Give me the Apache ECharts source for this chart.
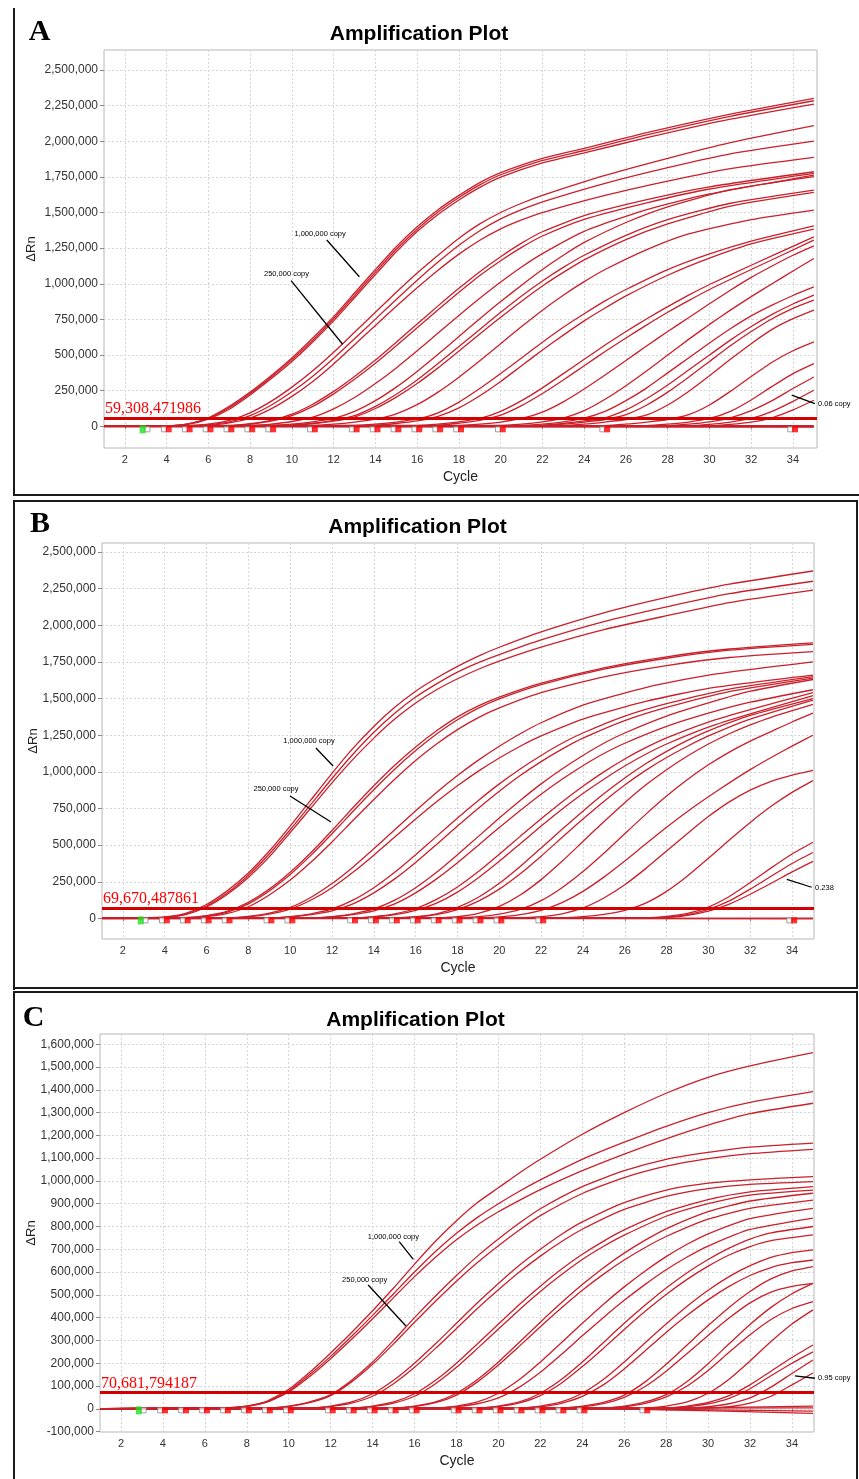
<!DOCTYPE html>
<html><head><meta charset="utf-8">
<script src="https://cdn.jsdelivr.net/npm/echarts@6/dist/echarts.min.js"></script>
<style>html,body{margin:0;padding:0;background:#fff}#c{width:859px;height:1479px}</style>
</head><body><div id="c"></div>
<script>
// ---------------- DATA ----------------
const cycleTicks = [2,4,6,8,10,12,14,16,18,20,22,24,26,28,30,32,34];
const yTicksAB = [0,250000,500000,750000,1000000,1250000,1500000,1750000,2000000,2250000,2500000];
const yTicksC = [-100000,0,100000,200000,300000,400000,500000,600000,700000,800000,900000,1000000,1100000,1200000,1300000,1400000,1500000,1600000];
const thresholdA = 59308.471986, thresholdB = 69670.487861, thresholdC = 70681.794187;
const thresholdLabelA = '59,308,471986', thresholdLabelB = '69,670,487861', thresholdLabelC = '70,681,794187';
const panelTitle = 'Amplification Plot';
const xName = 'Cycle', yName = 'ΔRn';
// baseline start/end flags (cycles) under each plot
const flagStartCycle = 3;
const flagCyclesA = [4,5,6,7,8,9,11,13,14,15,16,17,18,20,25,34];
const flagCyclesB = [4,5,6,7,9,10,13,14,15,16,17,18,19,20,22,34];
const flagCyclesC = [4,5,6,7,8,9,10,12,13,14,15,16,18,19,20,21,22,23,24,27];

// curves: [cycle, ΔRn in thousands]
const curvesA = [
[[1,0],[4,4],[5,18],[6,60],[7,140],[8,240],[9,355],[10,480],[11,620],[12,770],[13,935],[14,1100],[15,1260],[16,1400],[17,1520],[18,1620],[19,1710],[20,1780],[22,1880],[24,1950],[27,2060],[31,2190],[35,2301]],
[[1,0],[4,3],[5,15],[6,55],[7,130],[8,230],[9,345],[10,468],[11,605],[12,755],[13,918],[14,1082],[15,1242],[16,1383],[17,1503],[18,1605],[19,1694],[20,1765],[22,1865],[24,1935],[27,2045],[31,2175],[35,2284]],
[[1,0],[4,3],[5,13],[6,50],[7,120],[8,220],[9,333],[10,455],[11,592],[12,740],[13,902],[14,1065],[15,1225],[16,1366],[17,1486],[18,1588],[19,1676],[20,1748],[22,1848],[24,1918],[27,2025],[31,2155],[35,2261]],
[[1,0],[5,5],[6,16],[7,42],[8,95],[9,175],[10,275],[11,390],[12,520],[13,660],[14,800],[15,940],[16,1075],[17,1200],[18,1320],[19,1420],[20,1500],[21,1565],[22,1620],[25,1760],[28,1880],[31,1990],[35,2109]],
[[1,0],[5,4],[6,12],[7,32],[8,75],[9,148],[10,242],[11,352],[12,478],[13,615],[14,752],[15,890],[16,1025],[17,1152],[18,1270],[19,1372],[20,1455],[21,1520],[22,1575],[25,1705],[28,1815],[31,1912],[35,2001]],
[[1,0],[6,9],[7,25],[8,58],[9,122],[10,210],[11,315],[12,438],[13,572],[14,708],[15,842],[16,972],[17,1095],[18,1208],[19,1305],[20,1385],[21,1448],[22,1500],[25,1620],[28,1720],[31,1808],[35,1887]],
[[1,0],[7,5],[8,18],[9,42],[10,85],[11,155],[12,245],[13,350],[14,465],[15,590],[16,718],[17,845],[18,968],[19,1085],[20,1190],[21,1285],[22,1365],[24,1478],[27,1590],[30,1680],[35,1786]],
[[1,0],[7,4],[8,15],[9,36],[10,75],[11,140],[12,228],[13,330],[14,442],[15,565],[16,692],[17,818],[18,940],[19,1058],[20,1162],[21,1255],[22,1335],[24,1452],[27,1568],[30,1665],[35,1775]],
[[1,0],[8,5],[9,16],[10,34],[11,64],[12,122],[13,202],[14,300],[15,410],[16,530],[17,655],[18,778],[19,898],[20,1012],[21,1118],[22,1212],[24,1368],[27,1520],[30,1630],[35,1763]],
[[1,0],[9,5],[10,15],[11,32],[12,56],[13,105],[14,180],[15,275],[16,385],[17,505],[18,630],[19,755],[20,875],[21,990],[22,1100],[23,1200],[24,1290],[26,1430],[28,1540],[31,1660],[35,1752]],
[[1,0],[10,10],[11,22],[12,42],[13,75],[14,140],[15,225],[16,325],[17,440],[18,560],[19,680],[20,800],[21,915],[22,1020],[23,1115],[24,1200],[26,1340],[28,1450],[31,1565],[35,1657]],
[[1,0],[10,8],[11,18],[12,36],[13,65],[14,125],[15,205],[16,300],[17,410],[18,528],[19,648],[20,765],[21,878],[22,985],[23,1080],[24,1168],[26,1310],[28,1420],[31,1545],[35,1641]],
[[1,0],[11,5],[12,15],[13,30],[14,50],[15,88],[16,152],[17,240],[18,345],[19,460],[20,580],[21,700],[22,815],[23,920],[24,1015],[25,1100],[27,1240],[29,1350],[32,1450],[35,1517]],
[[1,0],[13,5],[14,15],[15,30],[16,52],[17,95],[18,170],[19,265],[20,370],[21,480],[22,590],[23,695],[24,790],[25,880],[26,960],[28,1100],[30,1210],[32,1300],[35,1407]],
[[1,0],[14,8],[15,20],[16,38],[17,70],[18,130],[19,215],[20,315],[21,425],[22,535],[23,640],[24,740],[25,830],[26,915],[28,1060],[30,1180],[32,1280],[35,1383]],
[[1,0],[16,5],[17,15],[18,32],[19,55],[20,105],[21,180],[22,270],[23,370],[24,470],[25,570],[26,665],[27,755],[28,840],[29,920],[30,995],[32,1130],[35,1329]],
[[1,0],[17,8],[18,22],[19,42],[20,78],[21,145],[22,230],[23,325],[24,425],[25,525],[26,620],[27,712],[28,800],[29,882],[30,960],[32,1100],[35,1306]],
[[1,0],[18,5],[19,15],[20,30],[21,55],[22,100],[23,172],[24,262],[25,360],[26,462],[27,565],[28,665],[29,762],[30,860],[31,955],[32,1045],[33,1125],[34,1200],[35,1266]],
[[1,0],[20,5],[21,15],[22,32],[23,58],[24,110],[25,190],[26,285],[27,390],[28,500],[29,610],[30,715],[31,815],[32,910],[33,1000],[34,1090],[35,1177]],
[[1,0],[21,5],[22,15],[23,32],[24,58],[25,105],[26,180],[27,270],[28,375],[29,480],[30,585],[31,685],[32,775],[33,850],[34,918],[35,978]],
[[1,0],[22,8],[23,20],[24,38],[25,60],[26,115],[27,195],[28,290],[29,395],[30,500],[31,605],[32,700],[33,785],[34,858],[35,920]],
[[1,0],[22,5],[23,15],[24,30],[25,48],[26,82],[27,150],[28,240],[29,345],[30,455],[31,565],[32,665],[33,755],[34,828],[35,885]],
[[1,0],[23,5],[24,15],[25,30],[26,48],[27,80],[28,150],[29,245],[30,355],[31,470],[32,580],[33,680],[34,755],[35,815]],
[[1,0],[25,5],[26,15],[27,30],[28,48],[29,82],[30,150],[31,245],[32,350],[33,450],[34,530],[35,592]],
[[1,0],[27,5],[28,15],[29,30],[30,55],[31,105],[32,185],[33,280],[34,370],[35,440]],
[[1,0],[28,5],[29,15],[30,32],[31,60],[32,110],[33,180],[34,265],[35,346]],
[[1,0],[29,5],[30,14],[31,30],[32,55],[33,105],[34,175],[35,253]],
[[1,0],[30,5],[31,14],[32,30],[33,60],[34,115],[35,183]],
[[1,-4],[35,-2]],
[[1,3],[35,4]],
[[1,0],[35,-6]]
];

const curvesB = [
[[1,0],[3,3],[4,10],[5,35],[6,95],[7,190],[8,310],[9,460],[10,630],[11,810],[12,990],[13,1160],[14,1310],[15,1440],[16,1550],[17,1640],[18,1720],[19,1790],[20,1850],[22,1955],[25,2085],[28,2190],[31,2280],[35,2370]],
[[1,0],[3,2],[4,8],[5,30],[6,85],[7,175],[8,295],[9,440],[10,605],[11,780],[12,955],[13,1120],[14,1270],[15,1400],[16,1510],[17,1600],[18,1680],[19,1745],[20,1800],[22,1900],[25,2025],[28,2125],[31,2215],[35,2300]],
[[1,0],[3,2],[4,7],[5,26],[6,78],[7,165],[8,280],[9,420],[10,585],[11,755],[12,925],[13,1085],[14,1230],[15,1360],[16,1470],[17,1560],[18,1635],[19,1700],[20,1755],[22,1850],[25,1970],[28,2065],[31,2155],[35,2240]],
[[1,0],[5,6],[6,20],[7,50],[8,110],[9,200],[10,315],[11,450],[12,600],[13,755],[14,905],[15,1045],[16,1170],[17,1280],[18,1375],[19,1450],[20,1510],[22,1605],[25,1710],[28,1785],[31,1838],[35,1880]],
[[1,0],[5,5],[6,17],[7,44],[8,100],[9,188],[10,300],[11,432],[12,578],[13,730],[14,878],[15,1018],[16,1145],[17,1258],[18,1355],[19,1435],[20,1498],[22,1595],[25,1700],[28,1775],[31,1830],[35,1870]],
[[1,0],[5,4],[6,12],[7,34],[8,80],[9,160],[10,262],[11,385],[12,522],[13,668],[14,812],[15,950],[16,1078],[17,1190],[18,1288],[19,1370],[20,1436],[22,1540],[25,1648],[28,1725],[31,1780],[35,1820]],
[[1,0],[7,4],[8,14],[9,36],[10,75],[11,145],[12,238],[13,350],[14,475],[15,605],[16,735],[17,860],[18,975],[19,1080],[20,1175],[21,1260],[22,1335],[24,1455],[27,1575],[30,1660],[35,1750]],
[[1,0],[7,3],[8,11],[9,30],[10,64],[11,126],[12,210],[13,315],[14,432],[15,555],[16,678],[17,796],[18,905],[19,1005],[20,1095],[21,1175],[22,1245],[24,1360],[27,1480],[30,1570],[35,1660]],
[[1,0],[9,4],[10,13],[11,32],[12,65],[13,125],[14,210],[15,315],[16,435],[17,560],[18,685],[19,805],[20,918],[21,1020],[22,1112],[23,1195],[24,1265],[26,1380],[28,1465],[31,1565],[35,1650]],
[[1,0],[9,3],[10,10],[11,26],[12,52],[13,100],[14,175],[15,270],[16,382],[17,505],[18,630],[19,752],[20,868],[21,975],[22,1070],[23,1155],[24,1230],[26,1350],[28,1440],[31,1548],[35,1640]],
[[1,0],[11,4],[12,13],[13,32],[14,65],[15,125],[16,210],[17,315],[18,435],[19,560],[20,685],[21,805],[22,918],[23,1020],[24,1112],[25,1195],[26,1265],[28,1380],[30,1470],[32,1550],[35,1630]],
[[1,0],[11,3],[12,10],[13,26],[14,52],[15,100],[16,175],[17,270],[18,380],[19,500],[20,620],[21,737],[22,848],[23,950],[24,1042],[25,1125],[26,1195],[28,1310],[30,1400],[32,1475],[35,1560]],
[[1,0],[13,4],[14,13],[15,32],[16,68],[17,130],[18,215],[19,320],[20,438],[21,560],[22,680],[23,795],[24,902],[25,1000],[26,1088],[27,1165],[28,1232],[30,1340],[32,1425],[35,1540]],
[[1,0],[13,3],[14,10],[15,26],[16,55],[17,105],[18,180],[19,278],[20,390],[21,510],[22,630],[23,745],[24,852],[25,950],[26,1040],[27,1120],[28,1190],[30,1305],[32,1395],[35,1520]],
[[1,0],[15,4],[16,12],[17,32],[18,75],[19,145],[20,240],[21,355],[22,480],[23,608],[24,732],[25,850],[26,958],[27,1055],[28,1140],[29,1215],[30,1280],[32,1385],[35,1500]],
[[1,0],[15,3],[16,10],[17,26],[18,60],[19,118],[20,200],[21,305],[22,425],[23,552],[24,678],[25,798],[26,910],[27,1010],[28,1098],[29,1175],[30,1245],[32,1360],[35,1490]],
[[1,0],[17,4],[18,12],[19,35],[20,82],[21,160],[22,265],[23,390],[24,525],[25,660],[26,790],[27,910],[28,1015],[29,1108],[30,1190],[31,1260],[32,1320],[33,1372],[35,1460]],
[[1,0],[18,4],[19,12],[20,30],[21,62],[22,122],[23,210],[24,320],[25,445],[26,578],[27,710],[28,835],[29,948],[30,1048],[31,1135],[32,1210],[33,1275],[34,1340],[35,1400]],
[[1,0],[19,3],[20,10],[21,26],[22,55],[23,108],[24,185],[25,282],[26,392],[27,508],[28,622],[29,730],[30,830],[31,925],[32,1015],[33,1098],[34,1176],[35,1250]],
[[1,0],[21,4],[22,12],[23,32],[24,72],[25,140],[26,230],[27,340],[28,460],[29,580],[30,695],[31,795],[32,875],[33,935],[34,978],[35,1010]],
[[1,0],[23,4],[24,12],[25,28],[26,55],[27,105],[28,185],[29,290],[30,410],[31,535],[32,655],[33,765],[34,860],[35,940]],
[[1,0],[27,4],[28,14],[29,35],[30,78],[31,150],[32,245],[33,345],[34,440],[35,520]],
[[1,0],[27,3],[28,10],[29,27],[30,62],[31,120],[32,200],[33,288],[34,375],[35,450]],
[[1,0],[28,8],[29,22],[30,50],[31,98],[32,165],[33,240],[34,318],[35,390]],
[[1,-2],[35,3]],
[[1,3],[35,-3]]
];

const curvesC = [
[[1,0],[7,4],[8,12],[9,35],[10,85],[11,160],[12,245],[13,335],[14,430],[15,530],[16,635],[17,735],[18,825],[19,905],[20,970],[21,1035],[22,1095],[24,1205],[26,1300],[28,1385],[30,1455],[32,1505],[35,1563]],
[[1,0],[7,4],[8,11],[9,32],[10,78],[11,150],[12,230],[13,318],[14,410],[15,505],[16,600],[17,690],[18,770],[19,840],[20,900],[21,955],[22,1005],[24,1095],[26,1170],[28,1240],[30,1300],[32,1345],[35,1392]],
[[1,0],[7,3],[8,10],[9,30],[10,74],[11,142],[12,220],[13,305],[14,395],[15,488],[16,580],[17,665],[18,742],[19,808],[20,865],[21,915],[22,962],[24,1045],[26,1118],[28,1185],[30,1245],[32,1295],[35,1341]],
[[1,0],[9,4],[10,12],[11,30],[12,62],[13,125],[14,205],[15,300],[16,400],[17,495],[18,585],[19,670],[20,745],[21,815],[22,878],[24,975],[26,1045],[28,1095],[30,1125],[32,1148],[35,1166]],
[[1,0],[9,3],[10,10],[11,27],[12,58],[13,118],[14,195],[15,285],[16,380],[17,472],[18,560],[19,642],[20,716],[21,785],[22,848],[24,945],[26,1015],[28,1065],[30,1098],[32,1120],[35,1139]],
[[1,0],[11,4],[12,12],[13,30],[14,66],[15,125],[16,200],[17,285],[18,375],[19,465],[20,550],[21,630],[22,700],[23,765],[24,820],[26,905],[28,960],[30,990],[32,1005],[35,1019]],
[[1,0],[11,3],[12,10],[13,25],[14,55],[15,110],[16,182],[17,265],[18,352],[19,440],[20,522],[21,600],[22,670],[23,733],[24,788],[26,875],[28,932],[30,966],[32,985],[35,997]],
[[1,0],[13,4],[14,12],[15,30],[16,66],[17,125],[18,200],[19,285],[20,372],[21,458],[22,538],[23,612],[24,678],[25,735],[26,785],[28,865],[30,918],[32,952],[35,975]],
[[1,0],[13,3],[14,10],[15,25],[16,55],[17,110],[18,182],[19,265],[20,350],[21,435],[22,515],[23,588],[24,655],[25,712],[26,762],[28,845],[30,900],[32,938],[35,960]],
[[1,0],[15,4],[16,12],[17,30],[18,68],[19,128],[20,205],[21,292],[22,380],[23,465],[24,545],[25,618],[26,683],[27,740],[28,790],[30,865],[32,912],[35,946]],
[[1,0],[15,3],[16,10],[17,27],[18,60],[19,118],[20,192],[21,275],[22,360],[23,442],[24,520],[25,590],[26,653],[27,708],[28,756],[30,832],[32,880],[35,916]],
[[1,0],[17,4],[18,12],[19,30],[20,68],[21,128],[22,205],[23,290],[24,375],[25,458],[26,535],[27,605],[28,668],[29,722],[30,768],[32,835],[35,880]],
[[1,0],[17,3],[18,9],[19,22],[20,48],[21,95],[22,160],[23,238],[24,320],[25,400],[26,476],[27,546],[28,610],[29,666],[30,714],[32,787],[35,837]],
[[1,0],[19,4],[20,12],[21,30],[22,68],[23,128],[24,205],[25,290],[26,375],[27,455],[28,530],[29,597],[30,655],[31,705],[32,745],[33,772],[35,800]],
[[1,0],[19,3],[20,10],[21,26],[22,58],[23,112],[24,185],[25,265],[26,348],[27,428],[28,502],[29,568],[30,626],[31,675],[32,712],[33,738],[35,763]],
[[1,0],[21,4],[22,12],[23,30],[24,68],[25,128],[26,205],[27,290],[28,372],[29,450],[30,520],[31,580],[32,628],[33,664],[34,685],[35,697]],
[[1,0],[21,3],[22,9],[23,24],[24,54],[25,105],[26,175],[27,255],[28,335],[29,410],[30,478],[31,537],[32,585],[33,620],[34,641],[35,653]],
[[1,0],[23,4],[24,12],[25,28],[26,60],[27,118],[28,195],[29,280],[30,365],[31,445],[32,515],[33,570],[34,605],[35,624]],
[[1,0],[23,3],[24,9],[25,23],[26,50],[27,98],[28,165],[29,243],[30,322],[31,398],[32,465],[33,512],[34,537],[35,550]],
[[1,0],[25,4],[26,12],[27,30],[28,62],[29,120],[30,198],[31,285],[32,370],[33,445],[34,505],[35,550]],
[[1,0],[25,3],[26,9],[27,24],[28,52],[29,100],[30,168],[31,248],[32,325],[33,392],[34,440],[35,470]],
[[1,0],[27,4],[28,12],[29,30],[30,68],[31,130],[32,210],[33,295],[34,372],[35,434]],
[[1,0],[28,4],[29,12],[30,28],[31,58],[32,105],[33,165],[34,225],[35,280]],
[[1,0],[28,3],[29,9],[30,22],[31,46],[32,88],[33,145],[34,200],[35,250]],
[[1,0],[29,3],[30,9],[31,22],[32,48],[33,95],[34,155],[35,214]],
[[1,0],[30,3],[31,9],[32,25],[33,55],[34,105],[35,157]],
[[1,0],[26,0],[35,12]],
[[1,-2],[26,-1],[35,-10]],
[[1,1],[26,-2],[35,-20]],
[[1,0],[35,4]]
];

// ---------------- LAYOUT / STYLE ----------------
const RED = '#c9202b';
const panels = [
  {curves: curvesA, yTicks: yTicksAB, ymin: -152000, ymax: 2640000, xmax: 35.15,
   grid: {left:104, top:50, width:713, height:398}, thr: thresholdA, thrLabel: thresholdLabelA, flags: flagCyclesA, flagY: -21000,
   letter: 'A', letterPos: [39.5, 32], titlePos: [419, 34], yNameGap: 66,
   notes: [
     {text:'1,000,000 copy', at:[11.35,1349000], from:[11.67,1307000], to:[13.23,1049000]},
     {text:'250,000 copy', at:[9.74,1069000], from:[9.96,1022000], to:[12.43,576000]},
     {text:'0.06 copy', at:[35.2,156000], from:[33.94,219000], to:[35.05,160000], left:true}
   ]},
  {curves: curvesB, yTicks: yTicksAB, ymin: -140000, ymax: 2561000, xmax: 35.05,
   grid: {left:102, top:543, width:712, height:396}, thr: thresholdB, thrLabel: thresholdLabelB, flags: flagCyclesB, flagY: -13000,
   letter: 'B', letterPos: [40, 524.5], titlePos: [417.5, 527], yNameGap: 62,
   notes: [
     {text:'1,000,000 copy', at:[10.9,1210000], from:[11.23,1163000], to:[12.05,1040000]},
     {text:'250,000 copy', at:[9.32,883000], from:[9.99,835000], to:[11.95,658000]},
     {text:'0.238', at:[35.1,208000], from:[33.75,267000], to:[34.94,213000], left:true}
   ]},
  {curves: curvesC, yTicks: yTicksC, ymin: -102000, ymax: 1645000, xmax: 35.05,
   grid: {left:100, top:1034, width:714, height:398}, thr: thresholdC, thrLabel: thresholdLabelC, flags: flagCyclesC, flagY: -7000,
   letter: 'C', letterPos: [33.5, 1018], titlePos: [415.5, 1020], yNameGap: 62,
   notes: [
     {text:'1,000,000 copy', at:[14.99,752700], from:[15.27,733400], to:[15.94,656100]},
     {text:'250,000 copy', at:[13.62,565300], from:[13.79,543400], to:[15.59,363400]},
     {text:'0.95 copy', at:[35.24,133900], from:[34.14,144000], to:[35.09,134000], left:true}
   ]}
];

const fmt = v => Math.round(v).toLocaleString('en-US');
const grids = [], xAxes = [], yAxes = [], series = [];
panels.forEach((p, i) => {
  grids.push(Object.assign({show:true, borderColor:'#b8b8b8', borderWidth:1, backgroundColor:'#fff'}, p.grid));
  xAxes.push({type:'value', gridIndex:i, min:1, max:p.xmax,
    axisLine:{show:false},
    axisTick:{show:true, customValues:cycleTicks, length:3, lineStyle:{color:'#888'}},
    axisLabel:{customValues:cycleTicks, fontSize:11, color:'#333', margin:6, fontFamily:'Liberation Sans'},
    splitLine:{show:true, lineStyle:{color:'#d6d6d6', type:[2,2], width:1}},
    name:xName, nameLocation:'middle', nameGap:22, nameMoveOverlap:false,
    nameTextStyle:{fontSize:14, color:'#222', fontFamily:'Liberation Sans'}});
  yAxes.push({type:'value', gridIndex:i, min:p.ymin, max:p.ymax,
    axisLine:{show:false},
    axisTick:{show:true, customValues:p.yTicks, length:4, lineStyle:{color:'#888'}},
    axisLabel:{customValues:p.yTicks, formatter:fmt, fontSize:12, color:'#333', margin:6, fontFamily:'Liberation Sans'},
    splitLine:{show:true, lineStyle:{color:'#d6d6d6', type:[2,2], width:1}},
    name:yName, nameLocation:'middle', nameGap:p.yNameGap, nameRotate:90, nameMoveOverlap:false,
    nameTextStyle:{fontSize:13, color:'#222', fontFamily:'Liberation Sans'}});
  p.curves.forEach(pts => {
    series.push({type:'line', xAxisIndex:i, yAxisIndex:i, data: pts.map(q => [q[0], q[1]*1000]),
      symbol:'none', smooth:0.2, silent:true, animation:false,
      lineStyle:{color:RED, width:1.3}, z:2});
  });
  // threshold
  series.push({type:'line', xAxisIndex:i, yAxisIndex:i, data:[], silent:true, animation:false, z:3,
    markLine:{symbol:'none', silent:true, animation:false,
      lineStyle:{color:'#d40000', width:3, type:'solid'},
      label:{show:true, position:'insideStartTop', formatter:p.thrLabel, color:'#ff0000',
        fontFamily:'Liberation Serif', fontSize:16, distance:[1,1]},
      data:[{yAxis:p.thr}]}});
  // flags
  const grayPts = [[flagStartCycle+0.08, p.flagY]].concat(p.flags.map(c => [c-0.13, p.flagY]));
  const redPts = p.flags.map(c => [c+0.1, p.flagY]);
  series.push({type:'scatter', xAxisIndex:i, yAxisIndex:i, data:grayPts, symbol:'rect', symbolSize:[5,5],
    itemStyle:{color:'#fff', borderColor:'#888', borderWidth:1}, silent:true, animation:false, z:5});
  series.push({type:'scatter', xAxisIndex:i, yAxisIndex:i, data:redPts, symbol:'rect', symbolSize:[6,6],
    itemStyle:{color:'#ff0000'}, silent:true, animation:false, z:5});
  series.push({type:'scatter', xAxisIndex:i, yAxisIndex:i, data:[[flagStartCycle-0.15, p.flagY]], symbol:'rect', symbolSize:[6,8],
    itemStyle:{color:'#22dd22'}, silent:true, animation:false, z:6});
});

const chart = echarts.init(document.getElementById('c'), null, {renderer:'canvas'});
chart.setOption({backgroundColor:'#fff', animation:false, grid:grids, xAxis:xAxes, yAxis:yAxes, series:series});

// frames, titles, letters, annotations
const g = [];
const frame = (pts) => ({type:'polyline', shape:{points:pts}, style:{stroke:'#1a1a1a', lineWidth:2, fill:null}, silent:true, z:100});
g.push(frame([[14,8],[14,495],[862,495]]));
g.push(frame([[14,990],[14,501],[857,501],[857,988],[14,988]]));
g.push(frame([[14,1485],[14,992],[857,992],[857,1485]]));
panels.forEach((p, i) => {
  g.push({type:'text', x:p.titlePos[0], y:p.titlePos[1], silent:true, z:100,
    style:{text:panelTitle, font:'bold 21px "Liberation Sans"', fill:'#000', align:'center', verticalAlign:'middle'}});
  g.push({type:'text', x:p.letterPos[0], y:p.letterPos[1], silent:true, z:100,
    style:{text:p.letter, font:'bold 30px "Liberation Serif"', fill:'#000', align:'center', verticalAlign:'middle'}});
  p.notes.forEach(n => {
    const a = chart.convertToPixel({gridIndex:i}, n.at);
    const f = chart.convertToPixel({gridIndex:i}, n.from);
    const t = chart.convertToPixel({gridIndex:i}, n.to);
    g.push({type:'line', shape:{x1:f[0], y1:f[1], x2:t[0], y2:t[1]}, style:{stroke:'#000', lineWidth:1.3}, silent:true, z:100});
    g.push({type:'text', x:a[0], y:a[1], silent:true, z:100,
      style:{text:n.text, font:'7.5px "Liberation Sans"', fill:'#000', align:n.left?'left':'center', verticalAlign:'middle'}});
  });
});
chart.setOption({graphic:g});
</script></body></html>
